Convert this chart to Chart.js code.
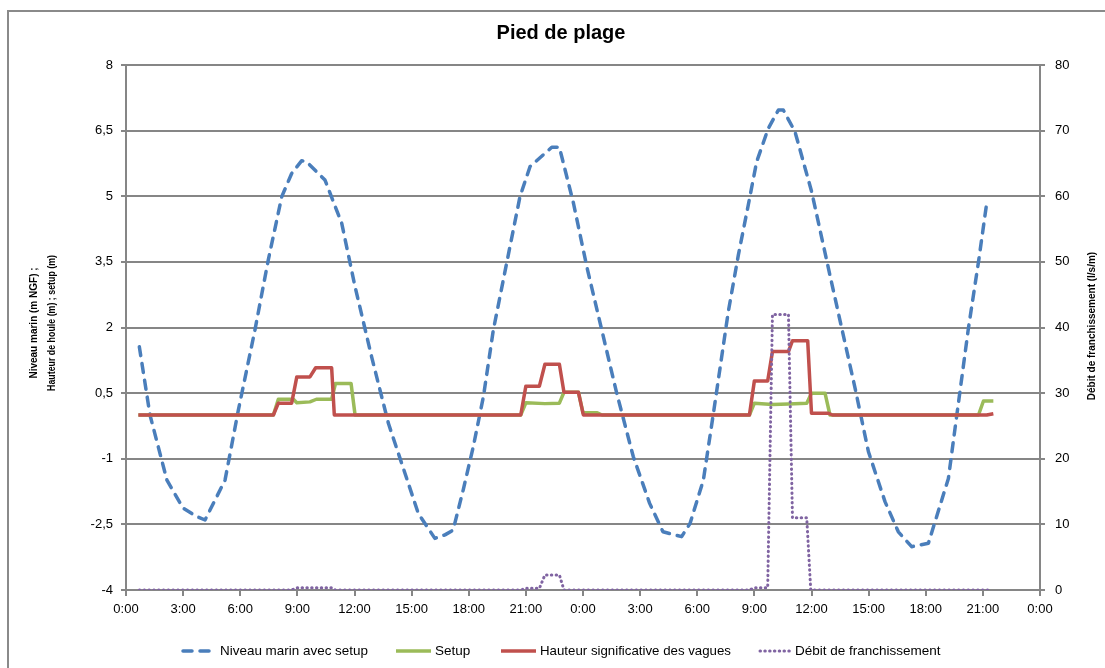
<!DOCTYPE html>
<html><head><meta charset="utf-8">
<script src="https://cdn.jsdelivr.net/npm/chart.js@4/dist/chart.umd.min.js"></script>
<style>html,body{margin:0;padding:0;background:#fff}#c{display:block}</style>
</head><body>
<canvas id="c" width="1105" height="668"></canvas>
<script>
// ---------- DATA ----------
const chartTitle = 'Pied de plage';
const leftAxisTitle = ['Niveau marin (m NGF) ;', 'Hauteur de houle (m) ; setup (m)'];
const rightAxisTitle = 'Débit de franchissement (l/s/m)';
const seriesNames = ['Niveau marin avec setup', 'Setup', 'Hauteur significative des vagues', 'Débit de franchissement'];

// time in hours from the first 0:00
const niveauHours  = [0.7, 1.26, 2.15, 3.0, 3.71, 4.15, 5.2, 5.9, 6.77, 7.47, 8.18, 8.7, 9.22, 9.48, 10.45, 11.33, 12.03, 12.9, 13.78, 14.65, 15.35, 16.22, 16.75, 17.18, 17.71, 18.24, 18.77, 19.29, 19.99, 20.69, 21.22, 22.0, 22.36, 22.76, 23.06, 23.5, 24.2, 24.9, 25.77, 26.64, 27.5, 28.2, 29.18, 29.62, 30.32, 30.85, 31.63, 32.16, 32.68, 33.12, 33.73, 34.26, 34.52, 35.13, 36.01, 36.89, 37.59, 38.29, 38.99, 39.86, 40.56, 41.26, 42.14, 43.19, 43.54, 44.24, 44.77, 45.2];
const niveauValues = [1.56, 0.0, -1.49, -2.13, -2.32, -2.40, -1.49, 0.11, 1.94, 3.54, 4.99, 5.52, 5.81, 5.79, 5.37, 4.38, 2.93, 1.33, -0.19, -1.33, -2.25, -2.82, -2.74, -2.63, -1.71, -0.72, 0.42, 1.94, 3.47, 4.99, 5.68, 5.98, 6.12, 6.12, 5.6, 4.84, 3.39, 2.1, 0.5, -0.95, -2.02, -2.67, -2.78, -2.48, -1.49, 0.04, 2.36, 3.66, 4.8, 5.79, 6.55, 6.97, 6.97, 6.48, 5.1, 3.35, 1.98, 0.61, -0.84, -1.98, -2.67, -3.01, -2.93, -1.45, -0.3, 1.98, 3.5, 4.84];

const setupHours  = [0.65, 7.74, 8.0, 8.79, 8.97, 9.66, 10.0, 10.8, 11.0, 11.82, 12.03, 20.73, 21.0, 22.0, 22.76, 23.0, 23.76, 24.0, 24.75, 25.0, 32.74, 33.0, 33.95, 34.79, 35.75, 36.0, 36.71, 36.97, 44.77, 45.03, 45.55];
const setupValues = [0, 0, 0.36, 0.36, 0.28, 0.3, 0.36, 0.36, 0.72, 0.72, 0, 0, 0.28, 0.26, 0.27, 0.52, 0.52, 0.05, 0.05, 0, 0, 0.27, 0.24, 0.25, 0.27, 0.5, 0.5, 0, 0, 0.32, 0.32];

const hauteurHours  = [0.65, 7.74, 8.0, 8.7, 8.97, 9.66, 9.96, 10.8, 10.94, 20.73, 21.0, 21.71, 22.0, 22.76, 23.0, 23.76, 24.02, 32.74, 33.0, 33.7, 33.95, 34.79, 35.0, 35.8, 36.0, 36.89, 37.1, 45.2, 45.55];
const hauteurValues = [0, 0, 0.27, 0.27, 0.87, 0.87, 1.08, 1.08, 0, 0, 0.66, 0.66, 1.16, 1.16, 0.52, 0.52, 0, 0, 0.78, 0.78, 1.45, 1.45, 1.7, 1.7, 0.04, 0.04, 0, 0, 0.03];

const debitHours  = [0.7, 8.7, 8.97, 10.8, 11.0, 20.73, 21.0, 21.71, 22.0, 22.76, 23.0, 32.74, 33.0, 33.7, 33.95, 34.79, 35.0, 35.75, 35.96, 45.3];
const debitValues = [0, 0, 0.35, 0.35, 0, 0, 0.25, 0.25, 2.3, 2.3, 0, 0, 0.35, 0.35, 42, 42, 11, 11, 0, 0];

// ---------- BUILD ----------
const pts = (xs, ys) => xs.map((x, i) => ({x: x, y: ys[i]}));
const colors = ['#4A7EBB', '#9BBB59', '#C0504D', '#8064A2'];
const FONT = "'Liberation Sans', Arial, sans-serif";
const GRID = '#868686';

const bgBorder = {
  id: 'bgBorder',
  beforeDraw(chart) {
    const c = chart.ctx;
    c.save();
    c.fillStyle = '#fff';
    c.fillRect(0, 0, chart.width, chart.height);
    c.strokeStyle = '#8a8a8a';
    c.lineWidth = 2;
    c.strokeRect(8, 11, 1120, 700);
    c.restore();
  },
  afterDraw(chart) {
    const c = chart.ctx;
    c.save();
    c.fillStyle = '#000';
    // title
    c.font = 'bold 20px ' + FONT;
    c.textAlign = 'center';
    c.textBaseline = 'middle';
    c.fillText(chartTitle, 561, 33);
    // left axis title
    c.font = 'bold 10px ' + FONT;
    c.save();
    c.translate(34, 323);
    c.rotate(-Math.PI / 2);
    c.fillText(leftAxisTitle[0], 0, 0, 140);
    c.fillText(leftAxisTitle[1], 0, 18, 136);
    c.restore();
    // right axis title
    c.save();
    c.translate(1092, 326);
    c.rotate(-Math.PI / 2);
    c.fillText(rightAxisTitle, 0, 0, 205);
    c.restore();
    // legend
    const ly = 651;
    const items = [
      {x0: 183, x1: 214, tx: 220, w: 148},
      {x0: 396, x1: 431, tx: 435, w: 36},
      {x0: 501, x1: 536, tx: 540, w: 191},
      {x0: 760, x1: 790, tx: 795, w: 151}
    ];
    c.font = '13.5px ' + FONT;
    c.textAlign = 'left';
    items.forEach((it, i) => {
      const ds = chart.data.datasets[i];
      c.save();
      c.strokeStyle = colors[i];
      c.lineWidth = ds.borderWidth;
      c.lineCap = ds.borderCapStyle || 'butt';
      c.setLineDash(ds.borderDash || []);
      c.beginPath();
      c.moveTo(it.x0, ly);
      c.lineTo(it.x1, ly);
      c.stroke();
      c.restore();
      c.fillStyle = '#000';
      c.fillText(seriesNames[i], it.tx, ly, it.w);
    });
    c.restore();
  }
};

const tickFont = {family: FONT, size: 13};

new Chart(document.getElementById('c'), {
  type: 'line',
  data: {
    datasets: [
      {label: seriesNames[0], data: pts(niveauHours, niveauValues), borderColor: colors[0], borderWidth: 3.5, borderDash: [9, 8], borderCapStyle: 'round', yAxisID: 'y', order: 4},
      {label: seriesNames[1], data: pts(setupHours, setupValues), borderColor: colors[1], borderWidth: 3.5, yAxisID: 'y', order: 3},
      {label: seriesNames[2], data: pts(hauteurHours, hauteurValues), borderColor: colors[2], borderWidth: 3.5, yAxisID: 'y', order: 2},
      {label: seriesNames[3], data: pts(debitHours, debitValues), borderColor: colors[3], borderWidth: 3, borderDash: [0.5, 4.3], borderCapStyle: 'round', yAxisID: 'y2', order: 1}
    ]
  },
  options: {
    responsive: false,
    animation: false,
    devicePixelRatio: 1,
    layout: {padding: {top: 65, left: 0, right: 0, bottom: 0}},
    elements: {point: {radius: 0}, line: {tension: 0, borderJoinStyle: 'round', fill: false}},
    plugins: {legend: {display: false}, title: {display: false}, tooltip: {enabled: false}},
    scales: {
      x: {
        type: 'linear', min: 0, max: 48,
        ticks: {stepSize: 3, color: '#000', font: tickFont, padding: 6, maxRotation: 0, autoSkip: false,
          callback: v => (v % 24) + ':00'},
        grid: {drawOnChartArea: false, drawTicks: true, tickLength: 6, color: GRID, lineWidth: 2},
        border: {display: true, color: GRID, width: 2},
        afterFit: s => { s.height = 78; }
      },
      y: {
        position: 'left', min: -4, max: 8,
        ticks: {stepSize: 1.5, color: '#000', font: tickFont, padding: 8,
          callback: v => String(Math.round(v * 10) / 10).replace('.', ',')},
        grid: {color: GRID, lineWidth: 2, tickLength: 5},
        border: {display: true, color: GRID, width: 2},
        afterFit: s => { s.width = 126; }
      },
      y2: {
        position: 'right', min: 0, max: 80,
        ticks: {stepSize: 10, color: '#000', font: tickFont, padding: 10},
        grid: {drawOnChartArea: false, tickLength: 5, color: GRID, lineWidth: 2},
        border: {display: true, color: GRID, width: 2},
        afterFit: s => { s.width = 65; }
      }
    }
  },
  plugins: [bgBorder]
});
</script>
</body></html>
